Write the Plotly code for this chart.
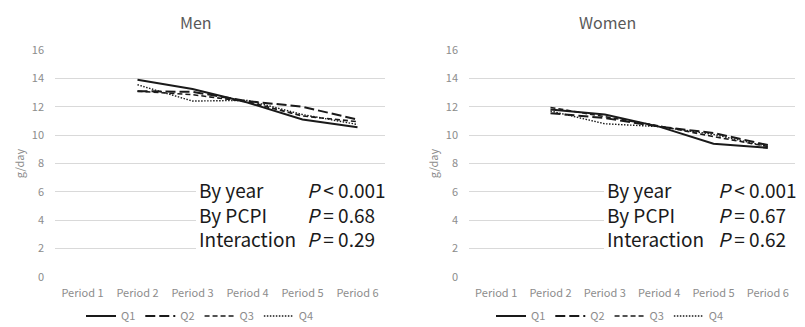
import plotly.graph_objects as go

periods = ["Period 1", "Period 2", "Period 3", "Period 4", "Period 5", "Period 6"]
series_names = ["Q1", "Q2", "Q3", "Q4"]

men_q1 = [None, 13.9, 13.25, 12.3, 11.1, 10.55]
men_q2 = [None, 13.1, 13.05, 12.4, 12.0, 11.1]
men_q3 = [None, 13.1, 12.85, 12.35, 11.35, 10.95]
men_q4 = [None, 13.55, 12.4, 12.45, 11.45, 10.75]

women_q1 = [None, 11.8, 11.45, 10.6, 9.4, 9.1]
women_q2 = [None, 11.55, 11.2, 10.6, 10.15, 9.3]
women_q3 = [None, 11.95, 11.3, 10.65, 9.9, 9.2]
women_q4 = [None, 11.7, 10.8, 10.6, 10.05, 9.2]

y_ticks = [0, 2, 4, 6, 8, 10, 12, 14, 16]

men_labels = ["By year", "By PCPI", "Interaction"]
men_p = ["<i>P</i> < 0.001", "<i>P</i> = 0.68", "<i>P</i> = 0.29"]
women_labels = ["By year", "By PCPI", "Interaction"]
women_p = ["<i>P</i> < 0.001", "<i>P</i> = 0.67", "<i>P</i> = 0.62"]

FONT = "Noto Sans CJK JP, Noto Sans, sans-serif"
GRAY = "#8c8c8c"
W = 805
H_PLOT = 227

styles = [
    dict(color="#1a1a1a", width=2, dash="solid"),
    dict(color="#1a1a1a", width=2, dash="10px,4px"),
    dict(color="#1a1a1a", width=1.6, dash="5px,3px"),
    dict(color="#1a1a1a", width=1.4, dash="1.5px,1.5px"),
]

fig = go.Figure()

men = [men_q1, men_q2, men_q3, men_q4]
women = [women_q1, women_q2, women_q3, women_q4]

for name, vals, st in zip(series_names, men, styles):
    fig.add_trace(go.Scatter(x=periods, y=vals, name=name, mode="lines",
                             line=st, xaxis="x", yaxis="y", legend="legend"))
for name, vals, st in zip(series_names, women, styles):
    fig.add_trace(go.Scatter(x=periods, y=vals, name=name, mode="lines",
                             line=st, xaxis="x2", yaxis="y2", legend="legend2"))

dom1 = [55 / W, 385 / W]
dom2 = [469 / W, 795 / W]

axis_common = dict(showgrid=False, showline=False, ticks="", zeroline=False,
                   tickfont=dict(family=FONT, size=11, color=GRAY),
                   ticklabelstandoff=8, range=[-0.5, 5.5])
yaxis_common = dict(range=[0, 16], tickvals=y_ticks, showgrid=True,
                    gridcolor="#d9d9d9", gridwidth=1, zeroline=False,
                    showline=False, ticks="", ticklabelstandoff=10,
                    tickfont=dict(family=FONT, size=11, color=GRAY),
                    title=dict(text="g/day", font=dict(family=FONT, size=11, color=GRAY),
                               standoff=4))

fig.update_layout(
    width=805, height=327,
    margin=dict(l=0, r=0, t=50, b=50, autoexpand=False),
    paper_bgcolor="white", plot_bgcolor="white",
    font=dict(family=FONT),
    xaxis=dict(domain=dom1, anchor="y", type="category", **axis_common),
    xaxis2=dict(domain=dom2, anchor="y2", type="category", **axis_common),
    yaxis=dict(domain=[0, 1], anchor="x", **yaxis_common),
    yaxis2=dict(domain=[0, 1], anchor="x2", **yaxis_common),
    legend=dict(orientation="h", x=200 / W, y=-(316 - 277) / H_PLOT, xanchor="center",
                yanchor="middle", font=dict(family=FONT, size=11, color=GRAY),
                itemwidth=30, tracegroupgap=0),
    legend2=dict(orientation="h", x=610 / W, y=-(316 - 277) / H_PLOT, xanchor="center",
                 yanchor="middle", font=dict(family=FONT, size=11, color=GRAY),
                 itemwidth=30, tracegroupgap=0),
    showlegend=True,
)

# titles
fig.add_annotation(text="Men", x=196 / W, y=1 + (50 - 22) / H_PLOT, xref="paper", yref="paper",
                   xanchor="center", yanchor="middle", showarrow=False,
                   font=dict(family=FONT, size=16, color="#595959"))
fig.add_annotation(text="Women", x=607 / W, y=1 + (50 - 22) / H_PLOT, xref="paper", yref="paper",
                   xanchor="center", yanchor="middle", showarrow=False,
                   font=dict(family=FONT, size=16, color="#595959"))

# white boxes behind the stats text
for yref, x0 in [("y", 196), ("y2", 604)]:
    fig.add_shape(type="rect", xref="paper", yref=yref,
                  x0=x0 / W, x1=(x0 + 200) / W, y0=1.2, y1=7.3,
                  fillcolor="white", line=dict(width=0), layer="above")

def stats(labels, pvals, xl, xp):
    yc = 1 - (214 - 50) / H_PLOT
    fig.add_annotation(text="<br>".join(labels), x=xl / W, y=yc,
                       xref="paper", yref="paper", xanchor="left", yanchor="middle",
                       align="left", showarrow=False, borderpad=0,
                       font=dict(family=FONT, size=19, color="#1a1a1a"))
    fig.add_annotation(text="<br>".join(pvals), x=xp / W, y=yc,
                       xref="paper", yref="paper", xanchor="left", yanchor="middle",
                       align="left", showarrow=False, borderpad=0,
                       font=dict(family=FONT, size=19, color="#1a1a1a"))

stats(men_labels, men_p, 198, 306)
stats(women_labels, women_p, 606, 717)

fig.write_html("out.html", config={"displayModeBar": False},
               post_script="document.body.style.margin='0';document.body.style.padding='0';")
